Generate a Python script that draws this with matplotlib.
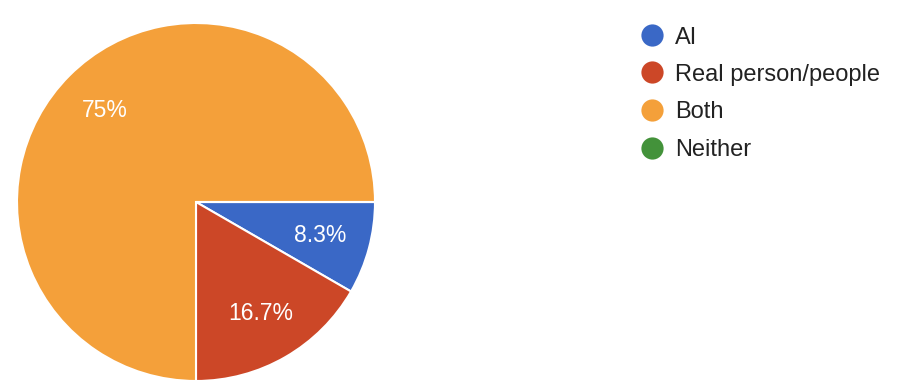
import matplotlib
matplotlib.use("Agg")
import matplotlib.pyplot as plt
from matplotlib.lines import Line2D

categories = ["AI", "Real person/people", "Both", "Neither"]
counts = [1, 2, 9, 0]
colors = ["#3a68c6", "#cc4727", "#f4a03a", "#43923a"]

plt.rcParams['font.family'] = ['Liberation Sans', 'DejaVu Sans']

W, H = 924, 392
fig = plt.figure(figsize=(W/100, H/100), dpi=100)

cx, cy, r = 196, 202, 179
ax = fig.add_axes([(cx - r)/W, (H - cy - r)/H, 2*r/W, 2*r/H])

def fmt(p):
    if p < 0.05:
        return ""
    s = f"{p:.1f}"
    if s.endswith(".0"):
        s = s[:-2]
    return s + "%"

wedges, texts, autotexts = ax.pie(
    counts, colors=colors, startangle=0, counterclock=False,
    autopct=fmt, pctdistance=0.72, radius=1,
    wedgeprops=dict(edgecolor="white", linewidth=1.5),
    textprops=dict(color="white", fontsize=16.5))
ax.set_xlim(-1.0, 1.0)
ax.set_ylim(-1.0, 1.0)
ax.set_aspect("equal")
ax.axis("off")

# legend
lx, tx = 652, 675
ys = [35, 72, 110, 148]
for cat, col, y in zip(categories, colors, ys):
    fig.add_artist(Line2D([lx/W], [1 - y/H], marker="o", markersize=16,
                          color=col, markeredgewidth=0, transform=fig.transFigure))
    fig.text(tx/W, 1 - y/H, cat, fontsize=17, color="#222222",
             va="center_baseline", ha="left")

fig.savefig("out.png", dpi=100)
